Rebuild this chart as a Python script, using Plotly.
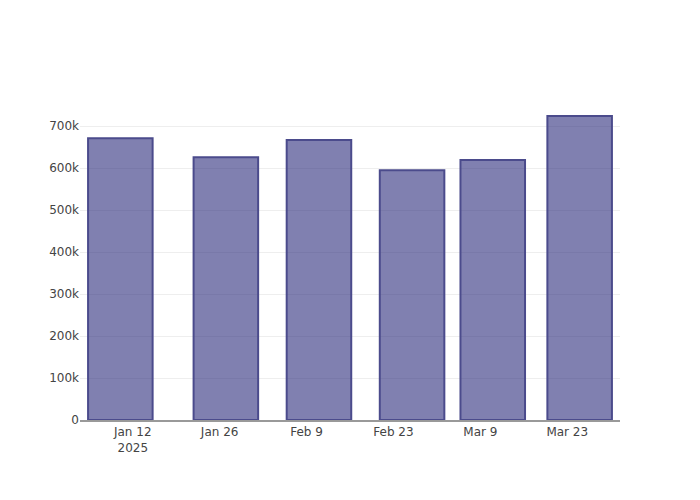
import plotly.graph_objects as go

dates = ["2025-01-10", "2025-01-27", "2025-02-11", "2025-02-26", "2025-03-11", "2025-03-25"]
values = [671000, 626000, 667000, 595000, 619000, 724000]

fig = go.Figure(
    go.Bar(
        x=dates,
        y=values,
        marker=dict(
            color="rgba(43,43,123,0.6)",
            line=dict(color="rgb(75,75,140)", width=2),
        ),
    )
)
fig.update_layout(
    template="plotly_white",
    width=700,
    height=500,
    showlegend=False,
    margin=dict(l=72, r=88, t=92, b=88),
    font=dict(family="DejaVu Sans", size=12, color="#444"),
)
fig.update_xaxes(showline=True, linecolor="#999", linewidth=1.5, showgrid=False,
                 dtick=14 * 86400000, tick0="2025-01-12", automargin=False)
fig.update_yaxes(showgrid=True, gridcolor="#eee", zeroline=False, automargin=False)
fig.write_html("out.html")
